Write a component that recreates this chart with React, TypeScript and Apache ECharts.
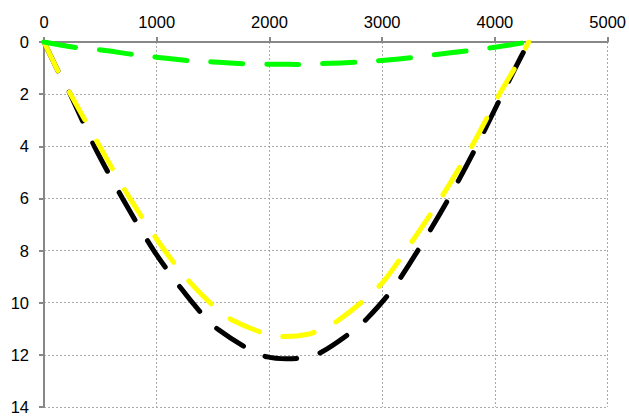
import React, { useEffect, useRef } from "react";
import * as echarts from "echarts";

const xTicks = [0, 1000, 2000, 3000, 4000, 5000];
const yTicks = [0, 2, 4, 6, 8, 10, 12, 14];

const blackX = [0, 140, 227, 447, 697, 974, 1212, 1416, 1549, 1823, 1982, 2150, 2310, 2460, 2735, 2867, 3088, 3316, 3590, 3837, 4066, 4180, 4300];
const blackY = [0, 1.25, 1.95, 4, 6, 8, 9.43, 10.5, 11.04, 11.8, 12.08, 12.15, 12.1, 11.9, 11.1, 10.6, 9.5, 8, 6, 4, 2, 1.0, 0];

const yellowX = [0, 140, 235, 494, 762, 1071, 1292, 1522, 1664, 1973, 2133, 2354, 2460, 2602, 2867, 3018, 3210, 3519, 3795, 4040, 4212, 4300];
const yellowY = [0, 1.25, 2, 4, 6, 8, 9.2, 10.2, 10.65, 11.2, 11.3, 11.2, 11.0, 10.7, 9.8, 9.15, 8, 6, 4, 2, 0.73, 0];

const greenX = [0, 315, 492, 815, 977, 1301, 1477, 1800, 2000, 2300, 2462, 2801, 2963, 3287, 3463, 3787, 3949, 4300];
const greenY = [0, 0.23, 0.3, 0.49, 0.57, 0.72, 0.76, 0.84, 0.85, 0.86, 0.83, 0.77, 0.72, 0.59, 0.49, 0.32, 0.23, 0];

const zip = (xs: number[], ys: number[]) => xs.map((x, i) => [x, ys[i]]);

const FONT = "'Liberation Sans', Arial, Helvetica, sans-serif";

export default function App() {
  const ref = useRef<HTMLDivElement>(null);
  useEffect(() => {
    if (!ref.current) return;
    const chart = echarts.init(ref.current, undefined, { renderer: "svg" });
    const lineBase = (color: string) => ({
      type: "line" as const,
      showSymbol: false,
      smooth: 0.3,
      lineStyle: { color, width: 5, type: [32, 24], cap: "round" as const },
      emphasis: { disabled: true },
    });
    chart.setOption({
      animation: false,
      backgroundColor: "#ffffff",
      textStyle: { fontFamily: FONT },
      grid: { left: 44, top: 42, right: 20, bottom: 9, containLabel: false },
      xAxis: {
        type: "value",
        position: "top",
        min: xTicks[0],
        max: xTicks[xTicks.length - 1],
        interval: 1000,
        axisLine: { show: true, lineStyle: { color: "#888888", width: 2 } },
        axisTick: { show: true, length: 5, lineStyle: { color: "#888888", width: 2 } },
        axisLabel: {
          color: "#000000",
          fontSize: 16.5,
          margin: 12,
          fontFamily: FONT,
          formatter: (v: number) => String(v),
        },
        splitLine: { show: true, lineStyle: { color: "#aaaaaa", width: 1, type: [2, 2] } },
      },
      yAxis: {
        type: "value",
        inverse: true,
        min: yTicks[0],
        max: yTicks[yTicks.length - 1],
        interval: 2,
        axisLine: { show: true, lineStyle: { color: "#888888", width: 2 } },
        axisTick: { show: true, length: 5, lineStyle: { color: "#888888", width: 2 } },
        axisLabel: {
          color: "#000000",
          fontSize: 16.5,
          margin: 15,
          fontFamily: FONT,
          formatter: (v: number) => String(v),
        },
        splitLine: { show: true, lineStyle: { color: "#aaaaaa", width: 1, type: [2, 2] } },
      },
      series: [
        { ...lineBase("#000000"), data: zip(blackX, blackY) },
        { ...lineBase("#ffff00"), data: zip(yellowX, yellowY) },
        { ...lineBase("#00ff00"), data: zip(greenX, greenY) },
      ],
    });
    return () => chart.dispose();
  }, []);
  return (
    <div
      ref={ref}
      style={{ position: "absolute", left: 0, top: 0, width: 629, height: 416 }}
    />
  );
}
